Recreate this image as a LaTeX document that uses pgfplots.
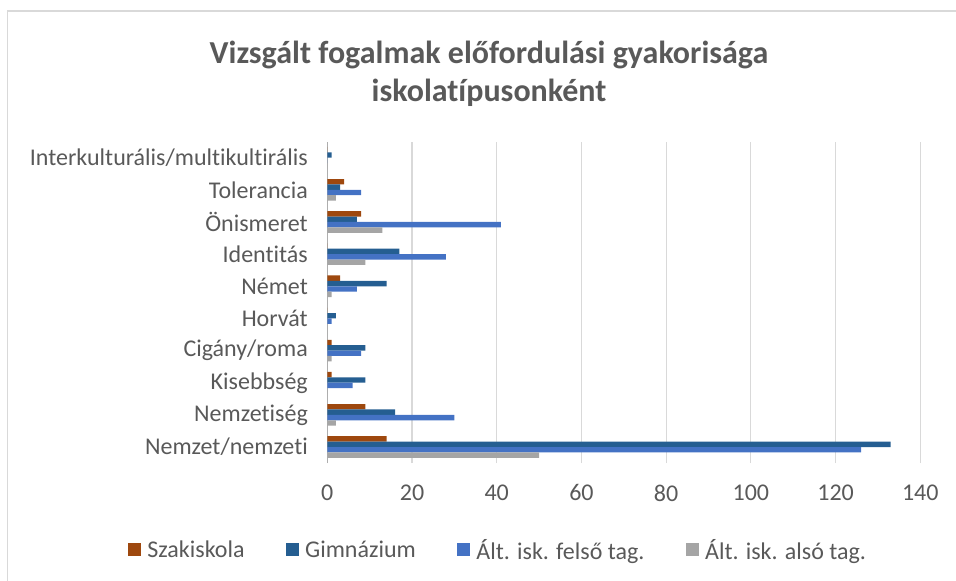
\documentclass[border=0pt]{standalone}
\usepackage{fontspec}
\setmainfont{Carlito}[Ligatures=NoCommon]
\usepackage{pgfplots}
\pgfplotsset{compat=1.18}
\definecolor{cSzak}{HTML}{9E480E}
\definecolor{cGimn}{HTML}{255E91}
\definecolor{cFelso}{HTML}{4472C4}
\definecolor{cAlso}{HTML}{A5A5A5}
\definecolor{txt}{HTML}{595959}
\definecolor{grd}{HTML}{D9D9D9}
\begin{document}
\begin{tikzpicture}[x=1pt,y=1pt]
\path[use as bounding box] (0,0) rectangle (956,-581);
\draw[grd, line width=1.2pt] (7.5,-581) -- (7.5,-11) -- (956,-11);
\begin{axis}[
  at={(327.3pt,-463.1pt)}, anchor=south west,
  scale only axis, width=593pt, height=321.5pt,
  xbar, bar width=5.4pt,
  xmin=0, xmax=140, xtick={0,20,...,140},
  ymin=-0.5, ymax=9.5, ytick={0,...,9},
  yticklabels={Nemzet/nemzeti,Nemzetiség,Kisebbség,Cigány/roma,Horvát,Német,Identitás,Önismeret,Tolerancia,Interkulturális/multikultirális},
  axis x line*=bottom, axis y line*=left,
  x axis line style={draw=none},
  y axis line style={draw=grd!80!black, line width=1.2pt},
  major tick length=0pt,
  xmajorgrids, grid style={grd, line width=1.2pt},
  /pgf/number format/assume math mode=true,
  ticklabel style={font=\fontsize{24}{29}\selectfont, text=txt},
  yticklabel style={xshift=-16pt},
  xticklabel style={yshift=-18pt},
  legend style={draw=none, fill=none, at={(0.286,-0.264)}, anchor=center,
    font=\fontsize{24}{29}\selectfont, nodes={inner sep=0pt, text=txt},
    legend columns=4,
    /tikz/every odd column/.append style={column sep=6.6pt},
    /tikz/every even column/.append style={column sep=41pt}},
  legend image code/.code={\fill[#1] (0pt,-6.5pt) rectangle (13pt,6.5pt); \path (0pt,14.5pt);},
]
\addplot[fill=cSzak, draw=none, bar shift=8.1pt] coordinates {(14,0) (9,1) (1,2) (1,3) (0,4) (3,5) (0,6) (8,7) (4,8) (0,9)};
\addplot[fill=cGimn, draw=none, bar shift=2.7pt] coordinates {(133,0) (16,1) (9,2) (9,3) (2,4) (14,5) (17,6) (7,7) (3,8) (1,9)};
\addplot[fill=cFelso, draw=none, bar shift=-2.7pt] coordinates {(126,0) (30,1) (6,2) (8,3) (1,4) (7,5) (28,6) (41,7) (8,8) (0,9)};
\addplot[fill=cAlso, draw=none, bar shift=-8.1pt] coordinates {(50,0) (2,1) (0,2) (1,3) (0,4) (1,5) (9,6) (13,7) (2,8) (0,9)};
\legend{Szakiskola,Gimnázium,Ált. isk. felső tag.,Ált. isk. alsó tag.}
\end{axis}
\node[align=center, font=\bfseries\fontsize{32}{38}\selectfont, text=txt] at (489,-73.5) {Vizsgált fogalmak előfordulási gyakorisága\\iskolatípusonként};
\end{tikzpicture}
\end{document}
